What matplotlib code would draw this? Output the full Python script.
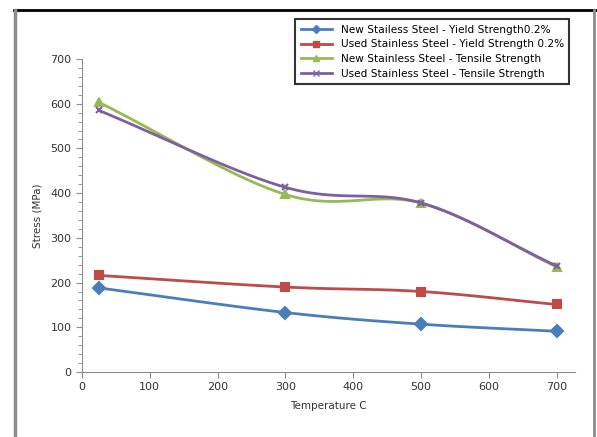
import numpy as np
import matplotlib.pyplot as plt
from matplotlib.lines import Line2D

# datos
temp = [25, 300, 500, 700]
new_yield = [188, 133, 107, 91]
used_yield = [216, 190, 180, 151]
new_tensile = [603, 397, 378, 235]
used_tensile = [585, 413, 378, 237]

labels = ['New Stailess Steel - Yield Strength0.2%',
          'Used Stainless Steel - Yield Strength 0.2%',
          'New Stainless Steel - Tensile Strength',
          'Used Stainless Steel - Tensile Strength']
colores = ['#4a7ebb', '#be4b48', '#98b954', '#7d60a0']
marcas = ['D', 's', '^', 'x']


def suave(x, y, n=30):
    # curva suavizada tipo Excel (Catmull-Rom)
    x = np.asarray(x, float)
    y = np.asarray(y, float)
    px = np.concatenate([[2*x[0]-x[1]], x, [2*x[-1]-x[-2]]])
    py = np.concatenate([[2*y[0]-y[1]], y, [2*y[-1]-y[-2]]])
    xs, ys = [], []
    t = np.linspace(0, 1, n)
    for i in range(1, len(px)-2):
        for p, out in ((px, xs), (py, ys)):
            p0, p1, p2, p3 = p[i-1], p[i], p[i+1], p[i+2]
            out.extend(0.5*((2*p1) + (-p0+p2)*t + (2*p0-5*p1+4*p2-p3)*t**2
                            + (-p0+3*p1-3*p2+p3)*t**3))
    return xs, ys


fig = plt.figure(figsize=(5.97, 4.37), dpi=100)
ax = fig.add_axes([82/597, 65/437, 493/597, 313/437])

series = [new_yield, used_yield, new_tensile, used_tensile]
for y, c, m in zip(series, colores, marcas):
    xs, ys = suave(temp, y)
    ax.plot(xs, ys, color=c, lw=2)
    ax.plot(temp, y, ls='none', marker=m, color=c, ms=6 if m != 'x' else 5,
            mew=1.5)

ax.set_xlim(0, 727)
ax.set_ylim(0, 700)
ax.set_xticks(range(0, 701, 100))
ax.set_yticks(range(0, 701, 100))
ax.set_yticks(range(0, 701, 20), minor=True)
for s in ['top', 'right']:
    ax.spines[s].set_visible(False)
for s in ['left', 'bottom']:
    ax.spines[s].set_color('#8c8c8c')
ax.tick_params(colors='#8c8c8c', labelcolor='#333333', labelsize=8, length=4)
ax.tick_params(axis='y', which='minor', colors='#8c8c8c', length=3)
ax.set_xlabel('Temperature C', fontsize=7.5, color='#333333', labelpad=6)
ax.set_ylabel('Stress (MPa)', fontsize=7.5, color='#333333', labelpad=6)

# leyenda
handles = [Line2D([], [], color=c, marker=m, lw=2, ms=4)
           for c, m in zip(colores, marcas)]
leg = fig.legend(handles, labels, loc='upper left',
                 bbox_to_anchor=(290/597, 1-14/437), fontsize=7.6,
                 frameon=True, fancybox=False, edgecolor='black',
                 handlelength=3.0, labelspacing=0.45, borderpad=0.5)
leg.get_frame().set_linewidth(1.5)

# marco exterior
fig.add_artist(Line2D([14/597, 1], [1-10/437, 1-10/437], color='black', lw=2))
fig.add_artist(Line2D([15/597, 15/597], [0, 1-10/437], color='#8c8c8c', lw=2.5))
fig.add_artist(Line2D([594/597, 594/597], [0, 1-10/437], color='#8c8c8c', lw=2))

fig.savefig('out.png', dpi=100)
